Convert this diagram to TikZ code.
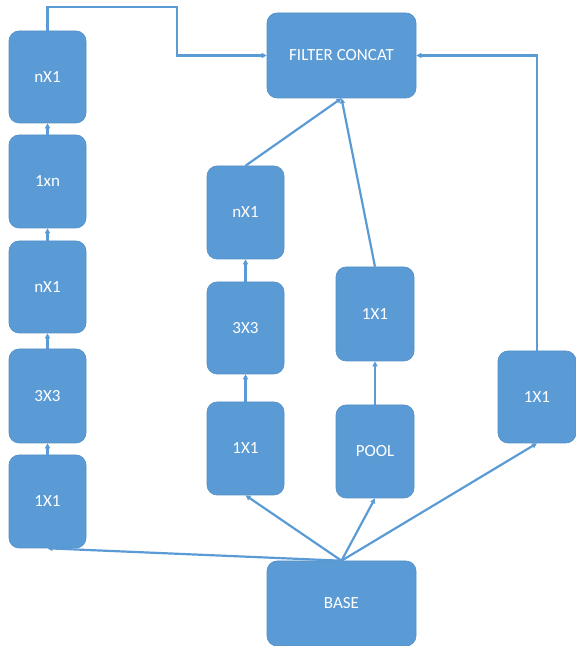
\documentclass[tikz,border=0pt]{standalone}
\usepackage{fontspec}
\setmainfont{Carlito}
\usetikzlibrary{arrows.meta}
\definecolor{boxblue}{HTML}{5B9BD5}
\tikzset{
  box/.style={fill=boxblue, draw=boxblue!92!black, line width=0.6pt, rounded corners=10pt,
    text=white, font=\fontsize{17}{20}\selectfont, inner sep=0pt},
  conn/.style={draw=boxblue, line width=2.2pt, -{Triangle[length=5pt,width=5pt]}}
}
\begin{document}
\begin{tikzpicture}[x=1pt,y=1pt]
\useasboundingbox (0,0) rectangle (576,646);
% left column
\node[box, minimum width=77pt, minimum height=92pt] (L5) at (47.5,569) {nX1};
\node[box, minimum width=77pt, minimum height=93pt] (L4) at (47.5,464.5) {1xn};
\node[box, minimum width=77pt, minimum height=92pt] (L3) at (47.5,359) {nX1};
\node[box, minimum width=77pt, minimum height=94pt] (L2) at (47.5,250) {3X3};
\node[box, minimum width=77pt, minimum height=93pt] (L1) at (47.5,144.5) {1X1};
% middle column
\node[box, minimum width=77pt, minimum height=93pt] (M3) at (245.5,433.5) {nX1};
\node[box, minimum width=77pt, minimum height=92pt] (M2) at (245.5,318) {3X3};
\node[box, minimum width=77pt, minimum height=93pt] (M1) at (245.5,197.5) {1X1};
% pool column
\node[box, minimum width=78pt, minimum height=94pt] (P2) at (375,332) {1X1};
\node[box, minimum width=78pt, minimum height=93pt] (P1) at (375,194.5) {POOL};
% right
\node[box, minimum width=78pt, minimum height=92pt] (R) at (537,249) {1X1};
% concat and base
\node[box, minimum width=149pt, minimum height=85pt] (FC) at (341.5,590.5) {FILTER CONCAT};
\node[box, minimum width=149pt, minimum height=85pt] (B) at (341.5,42.5) {BASE};
\coordinate (t1) at (47.5,639);
\coordinate (t2) at (177,639);
\coordinate (t3) at (177,590.5);
\coordinate (r1) at (537,590.5);
% chains
\draw[conn] (L1) -- (L2);
\draw[conn] (L2) -- (L3);
\draw[conn] (L3) -- (L4);
\draw[conn] (L4) -- (L5);
\draw[conn] (M1) -- (M2);
\draw[conn] (M2) -- (M3);
\draw[conn] (P1) -- (P2);
% to concat
\draw[conn] (L5.north) -- (t1) -- (t2) -- (t3) -- (FC.west);
\draw[conn] (R.north) -- (r1) -- (FC.east);
\draw[conn] (M3.north) -- (FC.south);
\draw[conn] (P2.north) -- (FC.south);
% from base
\draw[conn] (B.north) -- (L1.south);
\draw[conn] (B.north) -- (M1.south);
\draw[conn] (B.north) -- (P1.south);
\draw[conn] (B.north) -- (R.south);
\end{tikzpicture}
\end{document}
